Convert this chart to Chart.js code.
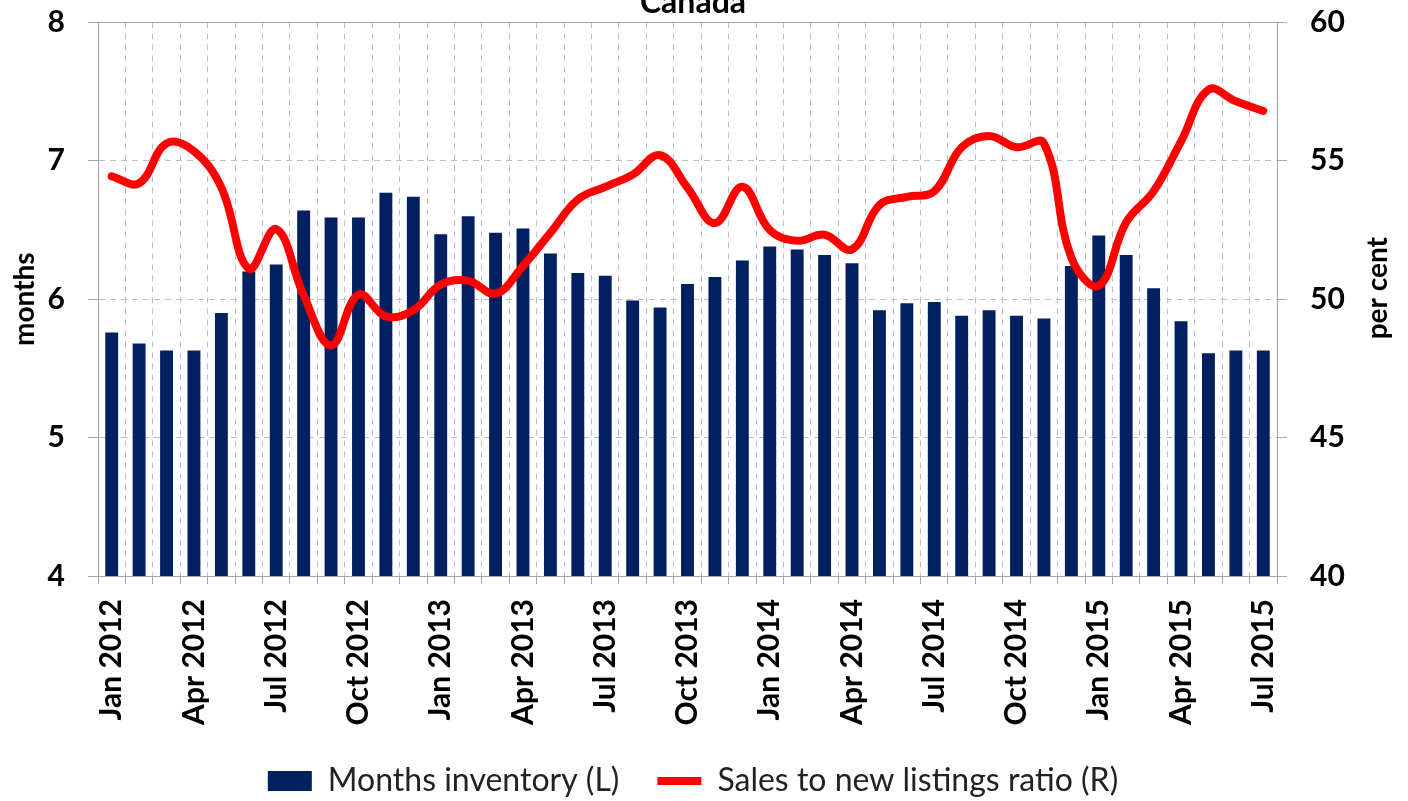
<!DOCTYPE html>
<html>
<head>
<meta charset="utf-8">
<script src="https://cdn.jsdelivr.net/npm/chart.js@4.4.1/dist/chart.umd.min.js"></script>
<style>
  html, body { margin: 0; padding: 0; background: #fff; }
  #wrap { position: relative; width: 1408px; height: 801px; overflow: hidden; }
  #chart { position: absolute; left: 0; top: -30px; }
</style>
</head>
<body>
<div id="wrap"><canvas id="chart" width="1408" height="837"></canvas></div>
<script>
// 월별 라벨 (Jan 2012 ~ Jul 2015)
const labels = [
    'Jan 2012', 'Feb 2012', 'Mar 2012', 'Apr 2012', 'May 2012', 'Jun 2012',
    'Jul 2012', 'Aug 2012', 'Sep 2012', 'Oct 2012', 'Nov 2012', 'Dec 2012',
    'Jan 2013', 'Feb 2013', 'Mar 2013', 'Apr 2013', 'May 2013', 'Jun 2013',
    'Jul 2013', 'Aug 2013', 'Sep 2013', 'Oct 2013', 'Nov 2013', 'Dec 2013',
    'Jan 2014', 'Feb 2014', 'Mar 2014', 'Apr 2014', 'May 2014', 'Jun 2014',
    'Jul 2014', 'Aug 2014', 'Sep 2014', 'Oct 2014', 'Nov 2014', 'Dec 2014',
    'Jan 2015', 'Feb 2015', 'Mar 2015', 'Apr 2015', 'May 2015', 'Jun 2015',
    'Jul 2015'
];

// Months inventory (L)
const monthsInventory = [
    5.76, 5.68, 5.63, 5.63, 5.90, 6.20, 6.25, 6.64, 6.59, 6.59, 6.77, 6.74,
    6.47, 6.60, 6.48, 6.51, 6.33, 6.19, 6.17, 5.99, 5.94, 6.11, 6.16, 6.28,
    6.38, 6.36, 6.32, 6.26, 5.92, 5.97, 5.98, 5.88, 5.92, 5.88, 5.86, 6.24,
    6.46, 6.32, 6.08, 5.84, 5.61, 5.63, 5.63
];

// Sales to new listings ratio (R)
const salesRatio = [
    54.44, 54.19, 55.63, 55.35, 54.03, 51.10, 52.53, 50.14, 48.33, 50.17, 49.38, 49.60,
    50.53, 50.67, 50.20, 51.20, 52.40, 53.60, 54.06, 54.50, 55.20, 54.03, 52.75, 54.06,
    52.50, 52.11, 52.33, 51.80, 53.40, 53.70, 53.90, 55.49, 55.90, 55.49, 55.63, 51.50,
    50.49, 52.78, 53.90, 55.70, 57.57, 57.15, 56.80
];

// 축 눈금
const leftTicks = [4, 5, 6, 7, 8];
const rightTicks = [40, 45, 50, 55, 60];

const FONT = 'Lato, "Open Sans", sans-serif';
const gridColor = '#bfbfbf';
const axisColor = '#a6a6a6';

Chart.defaults.color = '#000';
Chart.defaults.font.family = FONT;

// 오른쪽 축 제목 (아래에서 위로 읽히게)
const rightTitle = {
    id: 'rightTitle',
    afterDraw(chart) {
        const ctx = chart.ctx;
        const area = chart.chartArea;
        ctx.save();
        ctx.translate(1378, area.top + (area.bottom - area.top) / 2 - 11);
        ctx.rotate(-Math.PI / 2);
        ctx.font = 'bold 28px ' + FONT;
        ctx.fillStyle = '#000';
        ctx.textAlign = 'center';
        ctx.textBaseline = 'middle';
        ctx.fillText('per cent', 0, 0);
        ctx.restore();
    }
};

const ctx = document.getElementById('chart').getContext('2d');
const myChart = new Chart(ctx, {
    type: 'bar',
    data: {
        labels: labels,
        datasets: [{
                label: 'Months inventory (L)',
                data: monthsInventory,
                backgroundColor: '#002060',
                borderWidth: 0,
                barPercentage: 0.47,
                categoryPercentage: 1,
                yAxisID: 'y',
                order: 2,
                pointStyle: 'rect'
            },
            {
                type: 'line',
                label: 'Sales to new listings ratio (R)',
                data: salesRatio,
                borderColor: '#ff0000',
                backgroundColor: '#ff0000',
                borderWidth: 8,
                borderCapStyle: 'round',
                tension: 0.4,
                pointRadius: 0,
                yAxisID: 'y1',
                order: 1,
                pointStyle: 'line'
            }
        ]
    },
    options: {
        responsive: false,
        animation: false,
        layout: {
            padding: { left: 0, right: 22, top: 0, bottom: 0 }
        },
        scales: {
            x: {
                grid: {
                    color: gridColor,
                    tickColor: axisColor,
                    tickLength: 8,
                    offset: true
                },
                border: { color: axisColor, dash: [6, 5] },
                ticks: {
                    autoSkip: false,
                    maxRotation: 90,
                    minRotation: 90,
                    padding: 15,
                    font: { size: 30, weight: 'bold' },
                    callback: (v, i) => (i % 3 === 0 ? labels[i] : '')
                },
                afterFit: (scale) => { scale.height = 151; }
            },
            xTop: {
                type: 'category',
                position: 'top',
                labels: labels,
                grid: { display: false },
                ticks: { display: false },
                border: { color: axisColor },
                afterFit: (scale) => { scale.height = 0; }
            },
            y: {
                position: 'left',
                min: 4,
                max: 8,
                afterBuildTicks: (scale) => { scale.ticks = leftTicks.map(v => ({ value: v })); },
                grid: { color: gridColor, tickColor: axisColor, tickLength: 10 },
                border: { color: axisColor, dash: [6, 5] },
                ticks: { padding: 23, font: { size: 30, weight: 'bold' } },
                title: {
                    display: true,
                    text: 'months',
                    padding: { top: 8, bottom: 0 },
                    font: { size: 28, weight: 'bold' }
                },
                afterFit: (scale) => { scale.width = 98; }
            },
            y1: {
                position: 'right',
                min: 40,
                max: 60,
                afterBuildTicks: (scale) => { scale.ticks = rightTicks.map(v => ({ value: v })); },
                grid: { drawOnChartArea: false, color: axisColor, tickLength: 10 },
                border: { color: axisColor },
                ticks: { padding: 23, font: { size: 30, weight: 'bold' } },
                afterFit: (scale) => { scale.width = 109; }
            }
        },
        plugins: {
            title: {
                display: true,
                text: 'Canada',
                padding: { top: 13, bottom: 1 },
                font: { size: 32, weight: 'bold' }
            },
            legend: {
                position: 'bottom',
                labels: {
                    usePointStyle: true,
                    pointStyleWidth: 44,
                    boxHeight: 20,
                    padding: 38,
                    font: { size: 32 },
                    color: '#222',
                    sort: (a, b) => a.datasetIndex - b.datasetIndex
                }
            },
            tooltip: { enabled: false }
        }
    },
    plugins: [rightTitle]
});
</script>
</body>
</html>
